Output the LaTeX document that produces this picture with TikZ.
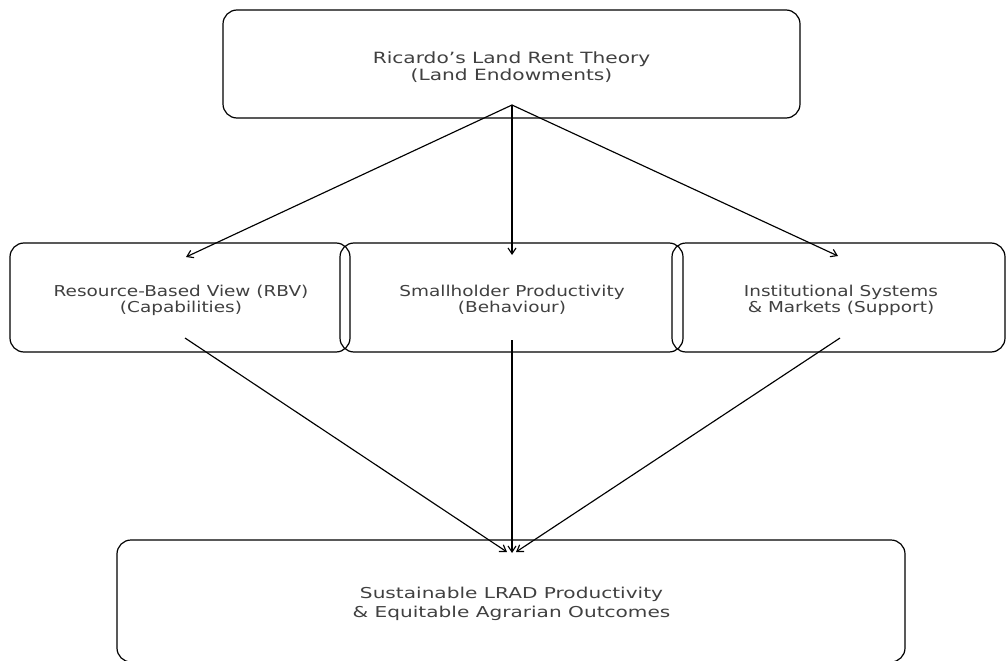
\documentclass[tikz,border=0pt]{standalone}
\usepackage{fontspec}
\setmainfont{DejaVu Sans}
% widened faces for the box captions
\newfontfamily\headfont[FakeStretch=1.30]{DejaVu Sans}
\newfontfamily\midfont[FakeStretch=1.23]{DejaVu Sans}
\newfontfamily\footfont[FakeStretch=1.34]{DejaVu Sans}
\usetikzlibrary{arrows.meta}

\begin{document}
\begin{tikzpicture}[x=1pt, y=-1pt,
  box/.style={draw=black, line width=1.2pt, rounded corners=14pt, inner sep=0pt},
  caption/.style={align=center, inner sep=0pt, text=black!75},
  link/.style={draw=black, line width=1.15pt, -{Straight Barb[length=6pt, width=8pt]}}]
\useasboundingbox (0,0) rectangle (1007,661);

% boxes
\node[box, minimum width=577pt, minimum height=108pt] (ricardo) at (511.5,64) {};
\node[box, minimum width=340pt, minimum height=109pt] (rbv) at (180,297.5) {};
\node[box, minimum width=343pt, minimum height=109pt] (small) at (511.5,297.5) {};
\node[box, minimum width=333pt, minimum height=109pt] (inst) at (838.5,297.5) {};
\node[box, minimum width=788pt, minimum height=122pt] (lrad) at (511,601) {};

% captions
\node[caption, font=\headfont\fontsize{15.5}{17}\selectfont] (ricardo-text) at (511.5,67)
  {Ricardo’s Land Rent Theory\\(Land Endowments)};
\node[caption, font=\midfont\fontsize{15}{16}\selectfont] (rbv-text) at (181,300)
  {Resource-Based View (RBV)\\(Capabilities)};
\node[caption, font=\midfont\fontsize{15}{16}\selectfont] (small-text) at (512,299.5)
  {Smallholder Productivity\\(Behaviour)};
\node[caption, font=\midfont\fontsize{15}{16}\selectfont] (inst-text) at (841,300)
  {Institutional Systems\\\& Markets (Support)};
\node[caption, font=\footfont\fontsize{15}{18.5}\selectfont] (lrad-text) at (511.5,604)
  {Sustainable LRAD Productivity\\\& Equitable Agrarian Outcomes};

% connector end points inside the boxes
\coordinate (ricardo-out) at (512,105);
\coordinate (rbv-in) at (186,257);
\coordinate (small-in) at (512,255);
\coordinate (inst-in) at (838,256);
\coordinate (rbv-out) at (185,338);
\coordinate (small-out) at (512,340);
\coordinate (inst-out) at (840,338);
\coordinate (lrad-in-l) at (507,552);
\coordinate (lrad-in-c) at (512,553);
\coordinate (lrad-in-r) at (516,552);

\draw[link] (ricardo-out) -- (rbv-in);
\draw[link] (ricardo-out) -- (small-in);
\draw[link] (ricardo-out) -- (inst-in);
\draw[link] (rbv-out) -- (lrad-in-l);
\draw[link] (small-out) -- (lrad-in-c);
\draw[link] (inst-out) -- (lrad-in-r);
\end{tikzpicture}
\end{document}
